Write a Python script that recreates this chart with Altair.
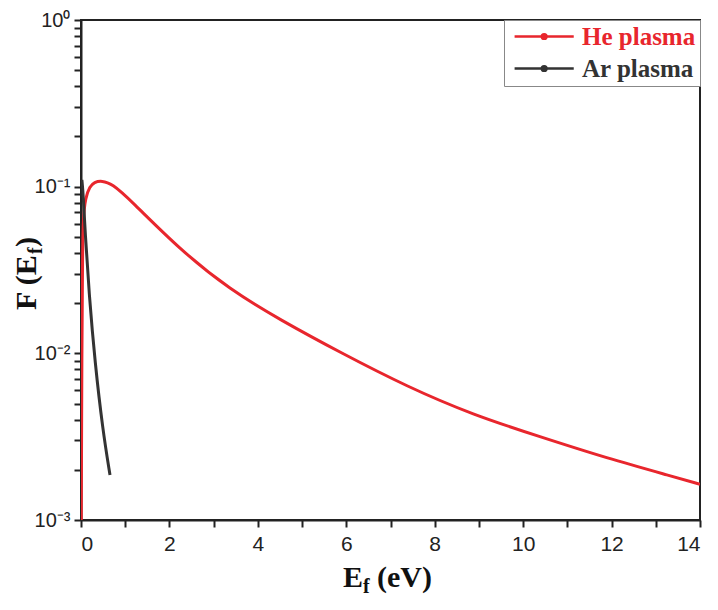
import altair as alt
import pandas as pd

# ---- data ----
he_E = [0.005, 0.02, 0.035, 0.05, 0.1, 0.2, 0.3, 0.47, 0.7, 1.11, 2.24, 3.37,
        4.5, 5.9, 7.37, 8.87, 10.38, 11.89, 13.4, 14.0]
he_F = [0.0008, 0.012, 0.04, 0.065, 0.086, 0.1004, 0.1064, 0.1087, 0.1042, 0.0835,
        0.0418, 0.0241, 0.0159, 0.0100, 0.00632, 0.00427, 0.00316, 0.00235,
        0.00182, 0.00164]
ar_E = [0.02, 0.05, 0.09, 0.188, 0.317, 0.49, 0.656]
ar_F = [0.11, 0.09, 0.055, 0.0218, 0.0088, 0.0035, 0.00186]
series = ["He plasma", "Ar plasma"]
colors = ["#e8262d", "#333333"]
x_ticks = list(range(0, 15))
y_ticks = sorted(set([round(k * 10 ** e, 10) for e in (-3, -2, -1) for k in range(1, 10)] + [1.0]))

df = pd.concat([
    pd.DataFrame({"E": he_E, "F": he_F, "series": series[0], "order": range(len(he_E))}),
    pd.DataFrame({"E": ar_E, "F": ar_F, "series": series[1], "order": range(len(ar_E))}),
])

W, H = 619, 500
serif = "Liberation Serif"
sans = "Liberation Sans"

ylab = ("abs(datum.value-1)<1e-9 ? '10\u2070' : abs(datum.value-0.1)<1e-9 ? '10\u207b\u00b9' : "
        "abs(datum.value-0.01)<1e-9 ? '10\u207b\u00b2' : abs(datum.value-0.001)<1e-9 ? '10\u207b\u00b3' : ''")

legend_path = "M-1,0L9,0M3.6,0A0.4,0.4,0,1,0,4.4,0A0.4,0.4,0,1,0,3.6,0Z"

lines = alt.Chart(df).mark_line(strokeWidth=3, clip=True, interpolate="basis").encode(
    x=alt.X("E:Q", scale=alt.Scale(domain=[0, 14], nice=False, zero=False),
            axis=alt.Axis(values=x_ticks, title=None,
                          labelExpr="datum.value % 2 == 0 ? datum.label : ''",
                          tickSize=7, labelPadding=6, labelFontSize=21)),
    y=alt.Y("F:Q", scale=alt.Scale(type="log", domain=[0.001, 1], nice=False),
            axis=alt.Axis(values=y_ticks, title=None, labelExpr=ylab,
                          tickSize=7, labelPadding=4, labelFontSize=20)),
    color=alt.Color("series:N", scale=alt.Scale(domain=series, range=colors),
                    legend=alt.Legend(title=None, orient="top-right", offset=0,
                                      padding=4, strokeColor="#888888", fillColor="white",
                                      labelFont=serif, labelFontWeight="bold", labelFontSize=25,
                                      labelColor=alt.ExprRef(expr="datum.value == 'He plasma' ? '#e8262d' : '#333333'"),
                                      symbolType=legend_path, symbolSize=140, symbolStrokeWidth=2.5,
                                      labelOffset=49, rowPadding=6, labelLimit=300)),
    order="order:Q",
)

one = pd.DataFrame({"a": [0]})
tstyle = dict(font=serif, fontWeight="bold", color="#111111", baseline="alphabetic", align="left")

xt1 = alt.Chart(one).mark_text(text="E", fontSize=30, **tstyle).encode(x=alt.value(262), y=alt.value(567))
xt2 = alt.Chart(one).mark_text(text="f", fontSize=20, **tstyle).encode(x=alt.value(282), y=alt.value(573))
xt3 = alt.Chart(one).mark_text(text="(eV)", fontSize=30, **tstyle).encode(x=alt.value(296), y=alt.value(567))

yt1 = alt.Chart(one).mark_text(text="F (E", fontSize=30, angle=270, **tstyle).encode(x=alt.value(-45), y=alt.value(290))
yt2 = alt.Chart(one).mark_text(text="f", fontSize=20, angle=270, **tstyle).encode(x=alt.value(-39), y=alt.value(234))
yt3 = alt.Chart(one).mark_text(text=")", fontSize=30, angle=270, **tstyle).encode(x=alt.value(-45), y=alt.value(227))

chart = alt.layer(lines, xt1, xt2, xt3, yt1, yt2, yt3).properties(
    width=W, height=H,
    autosize=alt.AutoSizeParams(type="none"),
    padding={"left": 73, "top": 12, "right": 10, "bottom": 80},
).configure_view(stroke="#222222", strokeWidth=2).configure_axis(
    domainColor="#222222", domainWidth=2, tickColor="#222222", tickWidth=2,
    labelFont=sans, labelColor="#222222", grid=False,
)

chart.save("out.html", embed_options={"renderer": "svg", "actions": False})
